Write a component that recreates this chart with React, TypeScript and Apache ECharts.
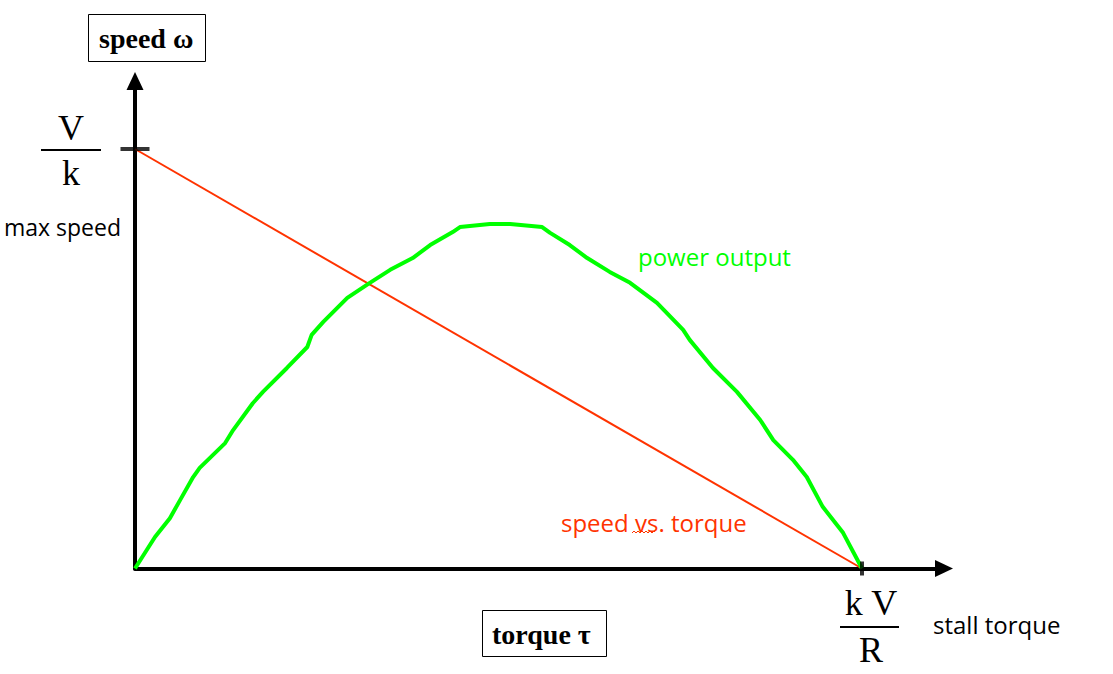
import React, { useEffect, useRef } from "react";
import * as echarts from "echarts";

// speed vs. torque line (torque as fraction of stall torque, speed as fraction of max speed)
const speedTorqueX = [0, 1];
const speedTorqueY = [1, 0];

// power output curve (same normalized axes)
const powerX = [0, 0.0275, 0.048, 0.062, 0.08, 0.089, 0.124, 0.135, 0.162, 0.176, 0.209, 0.237, 0.243, 0.259, 0.292, 0.323, 0.351, 0.382, 0.406, 0.437, 0.447, 0.488, 0.516, 0.56, 0.571, 0.598, 0.622, 0.653, 0.681, 0.718, 0.754, 0.763, 0.795, 0.828, 0.86, 0.878, 0.905, 0.924, 0.946, 0.974, 1];
const powerY = [0, 0.075, 0.12, 0.163, 0.218, 0.24, 0.299, 0.33, 0.394, 0.421, 0.478, 0.528, 0.557, 0.588, 0.645, 0.681, 0.712, 0.74, 0.771, 0.802, 0.814, 0.821, 0.821, 0.814, 0.8, 0.771, 0.74, 0.707, 0.681, 0.633, 0.569, 0.545, 0.478, 0.421, 0.354, 0.306, 0.259, 0.218, 0.147, 0.085, 0];

// tick labels
const yTickLabel = ["V", "k"];
const xTickLabel = ["k V", "R"];
const yTickNote = "max speed";
const xTickNote = "stall torque";
const yAxisName = "speed ω";
const xAxisName = "torque τ";
const powerLabel = "power output";
const lineLabel = "speed vs. torque";

const RED = "#ff3300";
const GREEN = "#00ff00";
const SANS = "'Open Sans', sans-serif";
const SERIF = "'Liberation Serif', serif";

export default function App() {
  const ref = useRef<HTMLDivElement>(null);
  useEffect(() => {
    const chart = echarts.init(ref.current!, null, { renderer: "svg" });
    const left = 135, right = 944, top = 81, bottom = 568.5;
    const xOne = 862, yOne = 149;
    const xMax = (right - left) / (xOne - left);
    const yMax = (bottom - top) / (bottom - yOne);

    const sansText = (text: string, x: number, y: number, color: string, size = 24) => ({
      type: "text", x, y,
      style: { text, fill: color, font: `${size}px ${SANS}`, align: "left", verticalAlign: "middle" },
    });
    const serifText = (text: string, x: number, y: number, size: number, bold: boolean, align = "center") => ({
      type: "text", x, y,
      style: { text, fill: "#000", font: `${bold ? "bold " : ""}${size}px ${SERIF}`, align, verticalAlign: "middle" },
    });

    chart.setOption({
      animation: false,
      backgroundColor: "#fff",
      grid: { left, top, width: right - left, height: bottom - top },
      xAxis: {
        type: "value", min: 0, max: xMax,
        axisLine: { show: true, symbol: ["none", "triangle"], symbolSize: [17, 18], lineStyle: { color: "#000", width: 4 } },
        axisTick: { show: false }, axisLabel: { show: false }, splitLine: { show: false },
      },
      yAxis: {
        type: "value", min: 0, max: yMax,
        axisLine: { show: true, symbol: ["none", "triangle"], symbolSize: [17, 18], lineStyle: { color: "#000", width: 4 } },
        axisTick: { show: false }, axisLabel: { show: false }, splitLine: { show: false },
      },
      series: [
        {
          type: "line", clip: false, symbol: "none", silent: true,
          data: speedTorqueX.map((x, i) => [x, speedTorqueY[i]]),
          lineStyle: { color: RED, width: 2 },
        },
        {
          type: "line", clip: false, symbol: "none", silent: true,
          data: powerX.map((x, i) => [x, powerY[i]]),
          lineStyle: { color: GREEN, width: 4 },
        },
        {
          type: "scatter", clip: false, silent: true, symbol: "rect", symbolSize: [29, 4],
          data: [[0, 1]], itemStyle: { color: "#000" }, z: 5,
        },
        {
          type: "scatter", clip: false, silent: true, symbol: "rect", symbolSize: [4, 14],
          data: [[1, 0]], itemStyle: { color: "#000" }, z: 5,
        },
      ],
      graphic: [
        { type: "rect", shape: { x: 88.5, y: 14.5, width: 117, height: 47 }, style: { fill: "#fff", stroke: "#000", lineWidth: 1 } },
        serifText(yAxisName, 99, 38, 28, true, "left"),
        { type: "rect", shape: { x: 482.5, y: 610.5, width: 124, height: 46 }, style: { fill: "#fff", stroke: "#000", lineWidth: 1 } },
        serifText(xAxisName, 492, 634, 28, true, "left"),
        serifText(yTickLabel[0], 71, 128, 36, false),
        { type: "line", shape: { x1: 41, y1: 150, x2: 101, y2: 150 }, style: { stroke: "#000", lineWidth: 2 } },
        serifText(yTickLabel[1], 71, 173, 36, false),
        serifText(xTickLabel[0], 871, 603, 36, false),
        { type: "line", shape: { x1: 840, y1: 627, x2: 899, y2: 627 }, style: { stroke: "#000", lineWidth: 2 } },
        serifText(xTickLabel[1], 871, 650, 36, false),
        sansText(yTickNote, 4, 227, "#000", 23),
        sansText(xTickNote, 933, 624, "#000"),
        sansText(powerLabel, 638, 256, GREEN),
        sansText(lineLabel, 561, 522, RED),
        {
          type: "polyline",
          shape: { points: [[632, 533], [634, 531], [636, 533], [638, 531], [640, 533], [642, 531], [644, 533], [646, 531], [648, 533], [650, 531], [652, 533], [654, 531], [655, 532]] },
          style: { stroke: RED, lineWidth: 1, fill: "none" },
        },
      ],
    });
    return () => chart.dispose();
  }, []);
  return <div ref={ref} style={{ position: "absolute", left: 0, top: 0, width: 1113, height: 674, background: "#fff" }} />;
}
